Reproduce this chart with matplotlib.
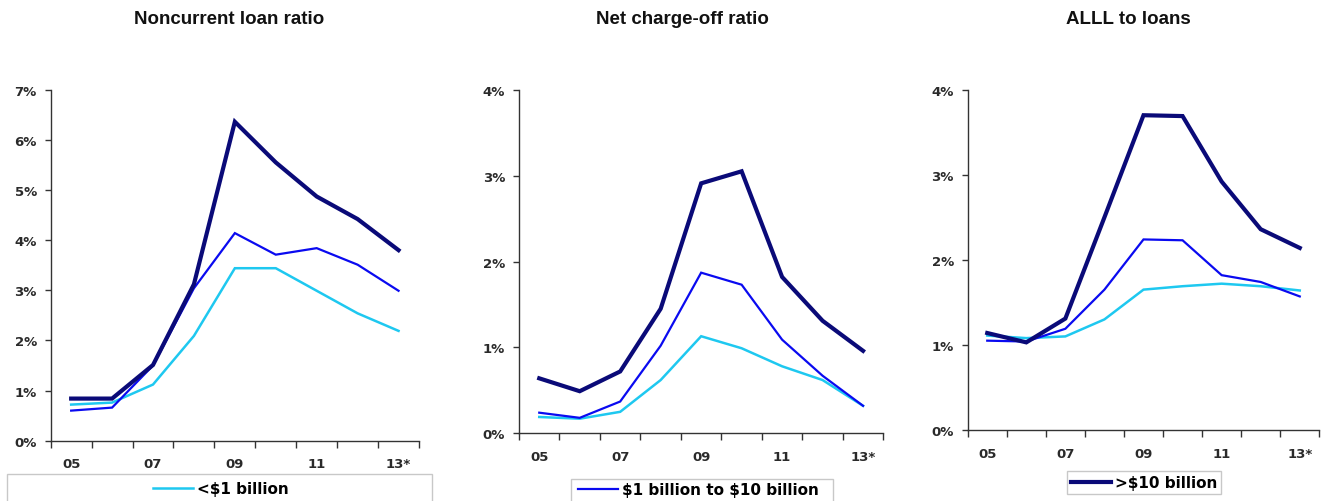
import matplotlib
matplotlib.use("Agg")
import matplotlib.pyplot as plt
from matplotlib.patches import Rectangle
from matplotlib.ticker import FixedLocator, FuncFormatter

years = ["05", "06", "07", "08", "09", "10", "11", "12", "13*"]
tick_labels = ["05", "07", "09", "11", "13*"]

titles = ["Noncurrent loan ratio", "Net charge-off ratio", "ALLL to loans"]
series_names = ["<\\$1 billion", "\\$1 billion to \\$10 billion", ">\\$10 billion"]

# Noncurrent loan ratio (%)
nc_small = [0.72, 0.76, 1.12, 2.09, 3.44, 3.44, 2.99, 2.54, 2.19]
nc_mid = [0.60, 0.66, 1.50, 3.04, 4.14, 3.71, 3.84, 3.51, 2.99]
nc_large = [0.84, 0.84, 1.51, 3.12, 6.36, 5.55, 4.87, 4.42, 3.80]

# Net charge-off ratio (%)
co_small = [0.19, 0.17, 0.25, 0.62, 1.13, 0.99, 0.78, 0.62, 0.32]
co_mid = [0.24, 0.18, 0.37, 1.02, 1.87, 1.73, 1.09, 0.67, 0.32]
co_large = [0.64, 0.49, 0.72, 1.45, 2.91, 3.05, 1.82, 1.31, 0.96]

# ALLL to loans (%)
al_small = [1.11, 1.08, 1.10, 1.30, 1.65, 1.69, 1.72, 1.69, 1.64]
al_mid = [1.05, 1.04, 1.19, 1.65, 2.24, 2.23, 1.82, 1.74, 1.57]
al_large = [1.14, 1.03, 1.31, 2.50, 3.70, 3.69, 2.92, 2.36, 2.14]

panels = [
    (nc_small, nc_mid, nc_large, 7),
    (co_small, co_mid, co_large, 4),
    (al_small, al_mid, al_large, 4),
]

colors = ["#1EC8F0", "#0A0AF0", "#0A0A78"]
widths = [1.8, 1.6, 3.0]

W, H = 1322, 502
fig = plt.figure(figsize=(W / 100, H / 100), dpi=100)

axes_px = [
    (50.7, 419.0, 90.7, 441.7),
    (519.0, 883.3, 90.7, 434.3),
    (967.7, 1319.3, 90.7, 431.0),
]
title_x = [229, 682, 1128]

fam = ["Liberation Sans", "DejaVu Sans"]
wide = ["DejaVu Sans"]

for i, ((s, m, l, ymax), (x0, x1, y0, y1)) in enumerate(zip(panels, axes_px)):
    ax = fig.add_axes([x0 / W, 1 - y1 / H, (x1 - x0) / W, (y1 - y0) / H])
    xs = list(range(len(years)))
    for vals, c, lw, name in zip((s, m, l), colors, widths, series_names):
        ax.plot(xs, vals, color=c, lw=lw, solid_joinstyle="miter", label=name)
    ax.set_xlim(-0.5, len(years) - 0.5)
    ax.set_ylim(0, ymax)
    for sp in ("top", "right"):
        ax.spines[sp].set_visible(False)
    for sp in ("left", "bottom"):
        ax.spines[sp].set_color("#333333")
        ax.spines[sp].set_linewidth(1.0)
    ax.yaxis.set_major_locator(FixedLocator(list(range(ymax + 1))))
    ax.yaxis.set_major_formatter(FuncFormatter(lambda v, p: f"{int(v)}%"))
    ax.tick_params(axis="y", length=4, width=1, color="#333333", pad=6,
                   labelsize=9.5, labelcolor="#2a2a2a")
    ax.set_xticks([xs[years.index(t)] for t in tick_labels])
    ax.set_xticklabels(tick_labels)
    ax.set_xticks([k - 0.5 for k in range(len(years) + 1)], minor=True)
    ax.tick_params(axis="x", which="major", length=0, pad=12,
                   labelsize=9.5, labelcolor="#2a2a2a")
    ax.tick_params(axis="x", which="minor", length=5, width=1, color="#333333")
    for lab in ax.get_xticklabels() + ax.get_yticklabels():
        lab.set_fontfamily(wide)
        lab.set_fontweight("bold")
    fig.text(title_x[i] / W, 1 - 19 / H, titles[i], ha="center", va="center",
             fontsize=13.5, fontweight="bold", family=fam, color="#111111")

# legend boxes (one series per panel)
leg_boxes = [
    (7, 432, 475, 510, 153, 490),
    (570.7, 833.3, 480, 510, 578, 491),
    (1066.7, 1221, 472, 495, 1071, 483.5),
]
for j, (bx0, bx1, by0, by1, lx, ly) in enumerate(leg_boxes):
    rect = Rectangle((bx0 / W, 1 - by1 / H), (bx1 - bx0) / W, (by1 - by0) / H,
                     transform=fig.transFigure, fill=False, edgecolor="#C8C8C8",
                     linewidth=1.0)
    fig.add_artist(rect)
    h = fig.axes[j].get_lines()[j]
    fig.legend([h], [series_names[j]], loc="center left",
               bbox_to_anchor=(lx / W, 1 - ly / H), frameon=False,
               handlelength=2.6, handletextpad=0.25, borderpad=0,
               borderaxespad=0,
               prop=dict(family=wide, weight="bold", size=11))

fig.savefig("out.png", dpi=100)
